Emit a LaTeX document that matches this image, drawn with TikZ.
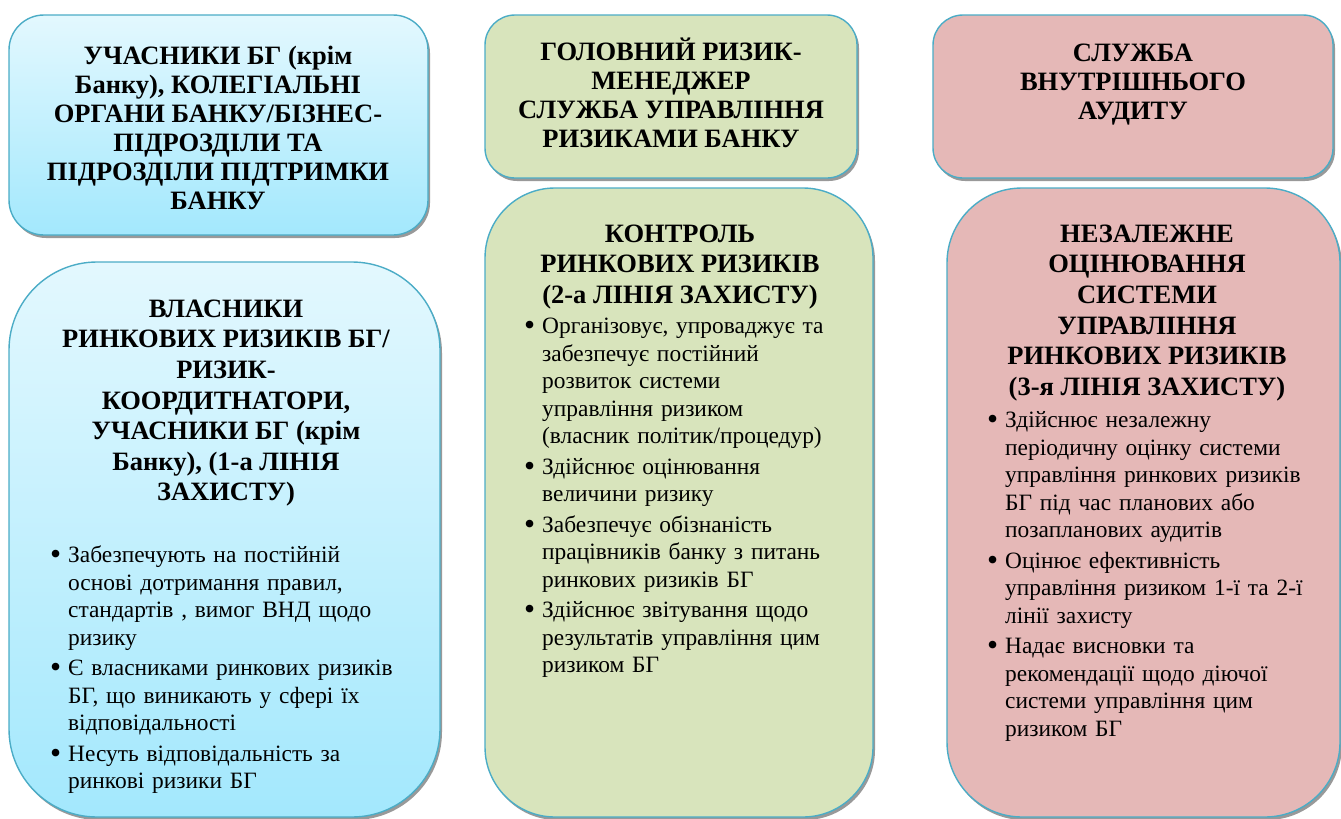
\documentclass[tikz,border=0pt]{standalone}
\usepackage{fontspec}
\setmainfont{Liberation Serif}
\usetikzlibrary{shadows,positioning}

\definecolor{rimblue}{HTML}{4BACC6}
\definecolor{skytop}{HTML}{E3F8FE}
\definecolor{skybot}{HTML}{A3E8FD}
\definecolor{olivefill}{HTML}{D8E4BC}
\definecolor{rosefill}{HTML}{E5B8B7}

\newcommand{\hdfont}{\fontsize{26.5}{29}\selectfont\bfseries}
\newcommand{\hdfontb}{\fontsize{26.5}{30.6}\selectfont\bfseries}
\newcommand{\bdfont}{\fontsize{23.4}{27.5}\selectfont}
\newcommand{\hstrut}{\rule{0pt}{24pt}}
\newcommand{\bitem}{\par\noindent\hangindent=18pt\hangafter=1\relax
  \makebox[18pt][l]{\raisebox{-2.2pt}{\scalebox{1.35}{\textbullet}}}\rule{0pt}{20pt}}

\tikzset{
  panel/.style={draw=rimblue, line width=1.4pt, inner sep=0pt,
    drop shadow={shadow xshift=2pt, shadow yshift=-3pt, fill=black!40, opacity=1}},
  skypanel/.style={panel, top color=skytop, bottom color=skybot},
  olivepanel/.style={panel, fill=olivefill},
  rosepanel/.style={panel, fill=rosefill},
  head/.style={anchor=north, align=center, inner sep=0pt, font=\hdfont},
  headb/.style={anchor=north, align=center, inner sep=0pt, font=\hdfontb},
  bullets/.style={anchor=north west, inner sep=0pt, text width=400pt, font=\bdfont}
}

\begin{document}
\begin{tikzpicture}[x=1pt,y=-1pt]
  \useasboundingbox (0,0) rectangle (1341,819);

  \node[skypanel, rounded corners=35pt, minimum width=419pt, minimum height=220pt] (own)  at (218.5,125)   {};
  \node[skypanel, rounded corners=88pt, minimum width=431pt, minimum height=555pt] (line1) at (224.5,539.5) {};
  \node[olivepanel, rounded corners=30pt, minimum width=372pt, minimum height=163pt] (crm)  at (671,96.5)   {};
  \node[olivepanel, rounded corners=70pt, minimum width=388pt, minimum height=629pt] (line2) at (679,502.5) {};
  \node[rosepanel, rounded corners=30pt, minimum width=400pt, minimum height=163pt] (audit) at (1133,96.5)  {};
  \node[rosepanel, rounded corners=75pt, minimum width=393pt, minimum height=629pt] (line3) at (1143.5,502.5) {};

  \node[head] (ownhead) at (218,40) {\hstrut УЧАСНИКИ БГ (крім\\Банку), КОЛЕГІАЛЬНІ\\ОРГАНИ БАНКУ/БІЗНЕС-\\ПІДРОЗДІЛИ ТА\\ПІДРОЗДІЛИ ПІДТРИМКИ\\БАНКУ};
  \node[head] (crmhead) at (671,36) {\hstrut ГОЛОВНИЙ РИЗИК-\\МЕНЕДЖЕР\\СЛУЖБА УПРАВЛІННЯ\\РИЗИКАМИ БАНКУ};
  \node[head] (audithead) at (1133,37) {\hstrut СЛУЖБА\\ВНУТРІШНЬОГО\\АУДИТУ};

  \node[headb] (line1head) at (226,293) {\hstrut ВЛАСНИКИ\\РИНКОВИХ РИЗИКІВ БГ/\\РИЗИК-\\КООРДИТНАТОРИ,\\УЧАСНИКИ БГ (крім\\Банку), (1-а ЛІНІЯ\\ЗАХИСТУ)};
  \node[headb] (line2head) at (680,218) {\hstrut КОНТРОЛЬ\\РИНКОВИХ РИЗИКІВ\\(2-а ЛІНІЯ ЗАХИСТУ)};
  \node[headb] (line3head) at (1147,218) {\hstrut НЕЗАЛЕЖНЕ\\ОЦІНЮВАННЯ\\СИСТЕМИ\\УПРАВЛІННЯ\\РИНКОВИХ РИЗИКІВ\\(3-я ЛІНІЯ ЗАХИСТУ)};

  \node[bullets] (line1list) at (50,532) {\parskip=3pt
    \bitem Забезпечують на постійній\newline основі дотримання правил,\newline стандартів , вимог ВНД щодо\newline ризику
    \bitem Є власниками ринкових ризиків\newline БГ, що виникають у сфері їх\newline відповідальності
    \bitem Несуть відповідальність за\newline ринкові ризики БГ\par};
  \node[bullets] (line2list) at (524,303) {\parskip=3pt
    \bitem Організовує, упроваджує та\newline забезпечує постійний\newline розвиток системи\newline управління ризиком\newline (власник політик/процедур)
    \bitem Здійснює оцінювання\newline величини ризику
    \bitem Забезпечує обізнаність\newline працівників банку з питань\newline ринкових ризиків БГ
    \bitem Здійснює звітування щодо\newline результатів управління цим\newline ризиком БГ\par};
  \node[bullets] (line3list) at (987,397) {\parskip=3pt
    \bitem Здійснює незалежну\newline періодичну оцінку системи\newline управління ринкових ризиків\newline БГ під час планових або\newline позапланових аудитів
    \bitem Оцінює ефективність\newline управління ризиком 1-ї та 2-ї\newline лінії захисту
    \bitem Надає висновки та\newline рекомендації щодо діючої\newline системи управління цим\newline ризиком БГ\par};
\end{tikzpicture}
\end{document}
